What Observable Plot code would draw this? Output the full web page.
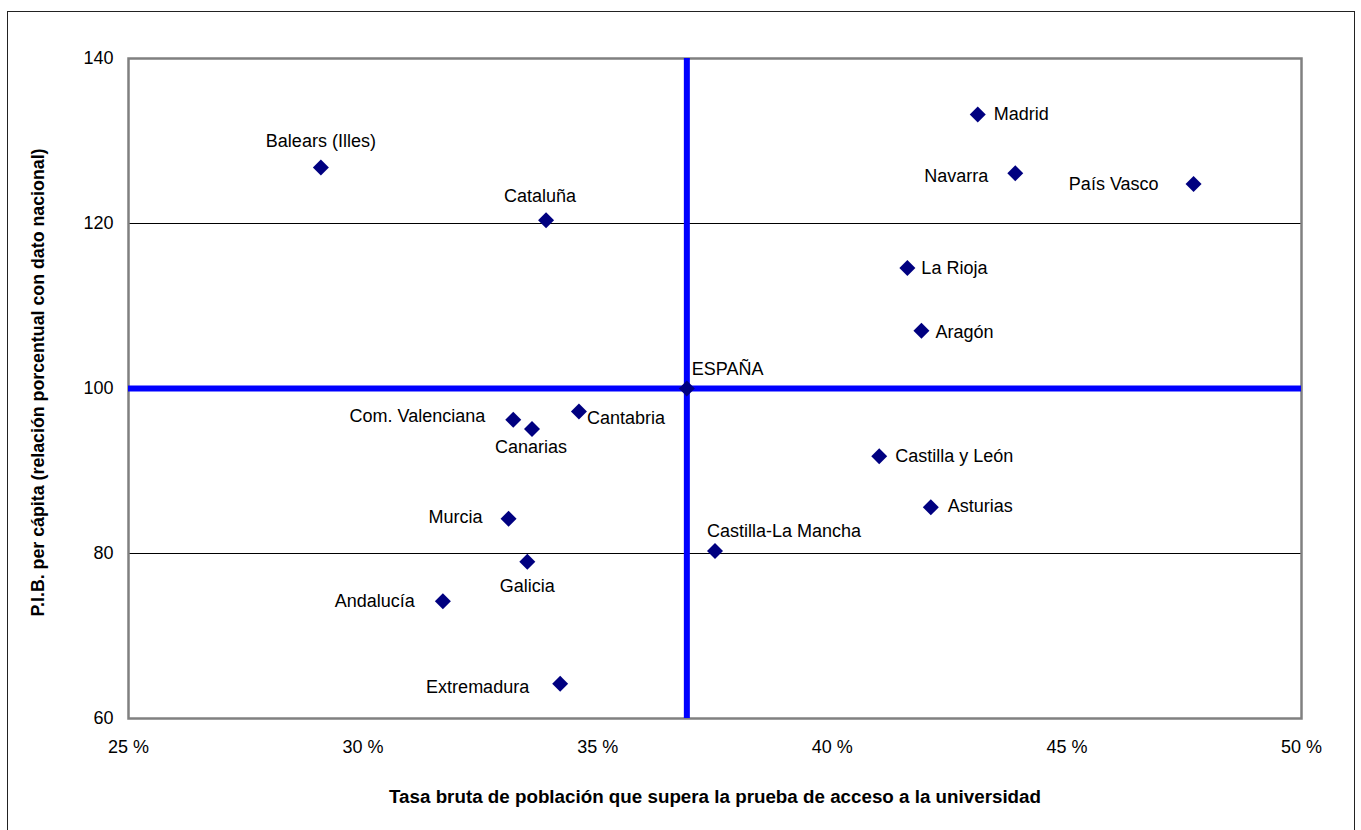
<!DOCTYPE html>
<html><head><meta charset="utf-8">
<script src="https://cdn.jsdelivr.net/npm/d3@7"></script>
<script src="https://cdn.jsdelivr.net/npm/@observablehq/plot@0.6"></script>
<style>
body{margin:0;background:#fff;}
#wrap{position:relative;width:1361px;height:830px;overflow:hidden;background:#fff}
#border{position:absolute;left:7px;top:11px;width:1348px;height:840px;border:1.5px solid #222;box-sizing:border-box;pointer-events:none}
</style></head><body><div id="wrap"><div id="chart"></div><div id="border"></div></div>
<script>
// ---- data ----
const regions = ["Madrid","Navarra","País Vasco","Balears (Illes)","Cataluña","La Rioja","Aragón","ESPAÑA","Cantabria","Com. Valenciana","Canarias","Castilla y León","Asturias","Murcia","Castilla-La Mancha","Galicia","Andalucía","Extremadura"];
const tasaAcceso = [43.1, 43.9, 47.7, 29.1, 33.9, 41.6, 41.9, 36.9, 34.6, 33.2, 33.6, 41.0, 42.1, 33.1, 37.5, 33.5, 31.7, 34.2];
const pibPerCapita = [133.2, 126.1, 124.8, 126.8, 120.4, 114.6, 107.0, 100.0, 97.2, 96.2, 95.1, 91.8, 85.6, 84.2, 80.3, 79.0, 74.2, 64.2];
const referenceRegion = "ESPAÑA";
const xTicks = [25, 30, 35, 40, 45, 50];
const yTicks = [60, 80, 100, 120, 140];
const gridValues = [80, 120];
const xTitle = "Tasa bruta de población que supera la prueba de acceso a la universidad";
const yTitle = "P.I.B. per cápita (relación porcentual con dato nacional)";

// ---- label layout (anchor + pixel offsets), separate from the data ----
const labelLayout = {
  "Madrid": ["start", 16, 0],
  "Navarra": ["end", -27, 3],
  "País Vasco": ["end", -35, 0],
  "Balears (Illes)": ["middle", 0, -26],
  "Cataluña": ["middle", -6, -24],
  "La Rioja": ["start", 14, 0],
  "Aragón": ["start", 14, 1],
  "ESPAÑA": ["start", 5, -19],
  "Cantabria": ["start", 8, 7],
  "Com. Valenciana": ["end", -28, -4],
  "Canarias": ["middle", -1, 18],
  "Castilla y León": ["start", 16, 0],
  "Asturias": ["start", 17, -1],
  "Murcia": ["end", -26, -2],
  "Castilla-La Mancha": ["start", -8, -20],
  "Galicia": ["middle", 0, 24],
  "Andalucía": ["end", -28, 0],
  "Extremadura": ["end", -31, 3]
};

const data = regions.map((name, i) => ({name, x: tasaAcceso[i], y: pibPerCapita[i]}));
const ref = data.find(d => d.name === referenceRegion);

const labelMarks = data.map(d => {
  const [anchor, dx, dy] = labelLayout[d.name];
  return Plot.text([d], {x: "x", y: "y", text: "name", textAnchor: anchor, dx, dy, fill: "black", fontSize: 18});
});

const chart = Plot.plot({
  width: 1361,
  height: 830,
  marginLeft: 128,
  marginRight: 60,
  marginTop: 58,
  marginBottom: 112,
  style: {fontFamily: "'Liberation Sans', Arial, sans-serif", fontSize: "18px", color: "black", background: "white", overflow: "visible"},
  x: {domain: [25, 50]},
  y: {domain: [60, 140]},
  marks: [
    Plot.ruleY(gridValues, {stroke: "black", strokeWidth: 1}),
    Plot.frame({stroke: "#808080", strokeWidth: 2.5}),
    Plot.ruleY([ref.y], {stroke: "#0000FF", strokeWidth: 6}),
    Plot.ruleX([ref.x], {stroke: "#0000FF", strokeWidth: 6}),
    Plot.axisX({ticks: xTicks, tickFormat: d => d + " %", tickSize: 0, tickPadding: 22, label: null, fontSize: 18}),
    Plot.axisY({ticks: yTicks, tickSize: 0, tickPadding: 15, label: null, fontSize: 18}),
    Plot.dot(data, {x: "x", y: "y", symbol: "diamond2", r: 7.2, fill: "#000080", stroke: "none"}),
    ...labelMarks,
    Plot.text([xTitle], {frameAnchor: "bottom", textAnchor: "middle", lineAnchor: "middle", dy: 79, fontWeight: "bold", fontSize: 18, className: "xtitle"}),
    Plot.text([yTitle], {frameAnchor: "left", textAnchor: "middle", lineAnchor: "middle", dx: -90, dy: -6, rotate: -90, fontWeight: "bold", fontSize: 18, className: "ytitle"})
  ]
});
document.getElementById("chart").appendChild(chart);
d3.select(chart).selectAll(".xtitle text").attr("textLength", 652).attr("lengthAdjust", "spacingAndGlyphs");
d3.select(chart).selectAll(".ytitle text").attr("textLength", 468).attr("lengthAdjust", "spacingAndGlyphs");
</script>
</body></html>
